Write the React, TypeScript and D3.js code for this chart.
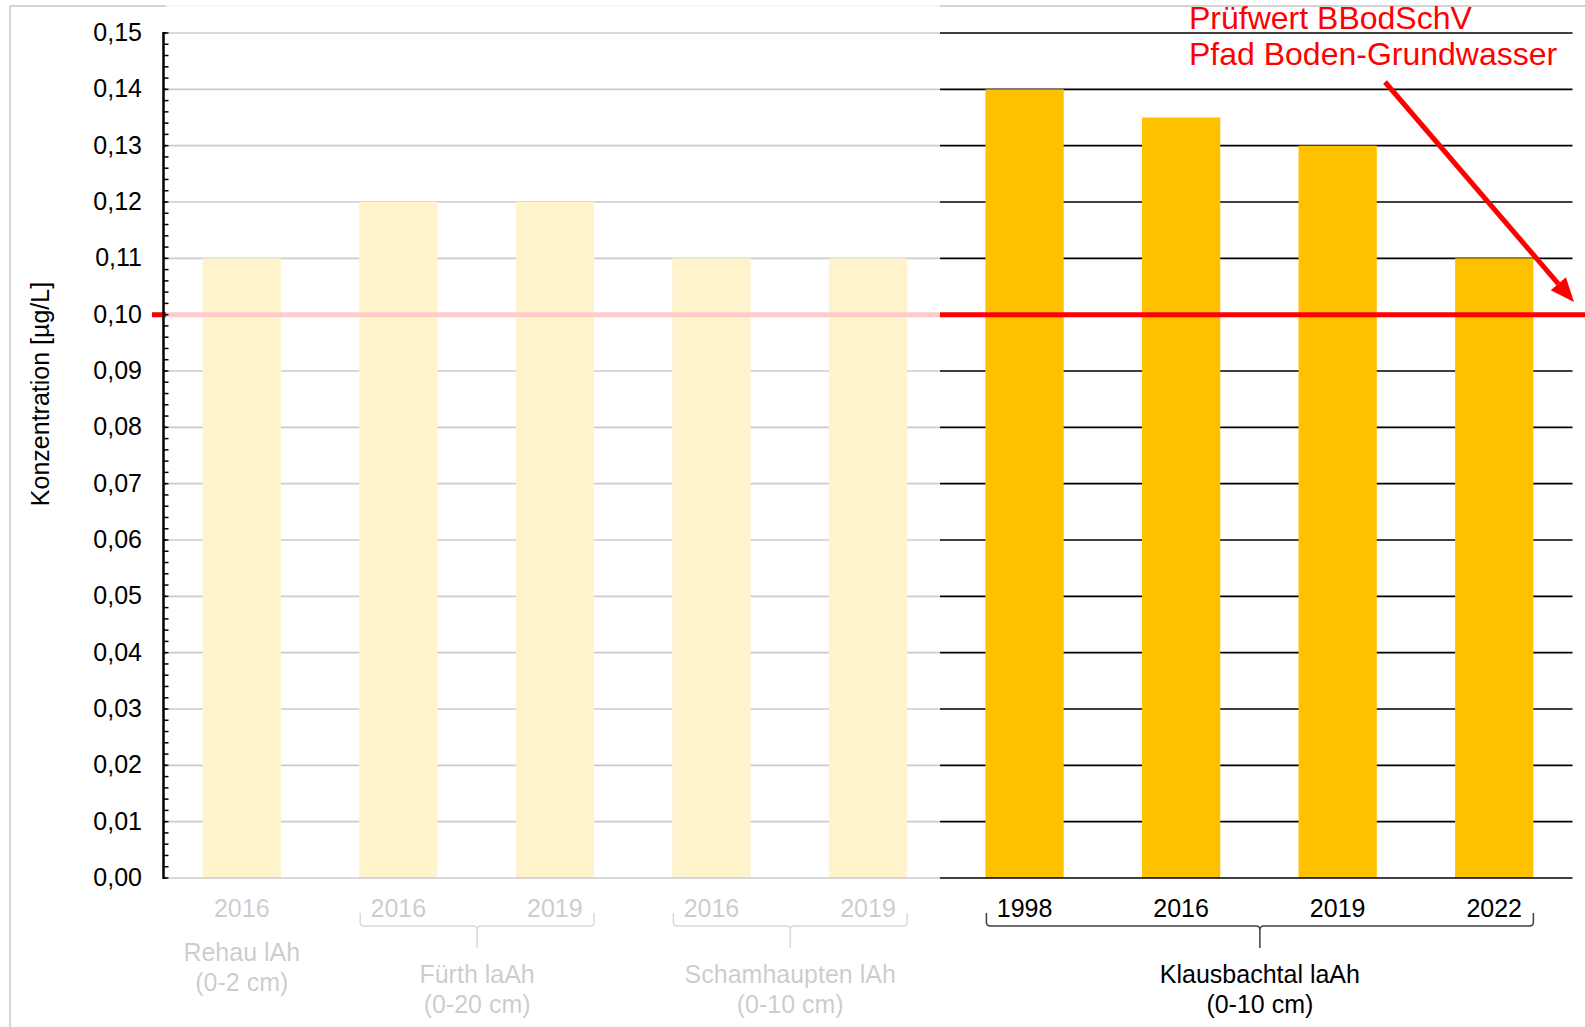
import React from "react";
import * as d3 from "d3";

const years = ["2016", "2016", "2019", "2016", "2019", "1998", "2016", "2019", "2022"];
const values = [0.11, 0.12, 0.12, 0.11, 0.11, 0.14, 0.135, 0.13, 0.11];
const groupNames = ["Rehau lAh", "Fürth laAh", "Schamhaupten lAh", "Klausbachtal laAh"];
const groupDepths = ["(0-2 cm)", "(0-20 cm)", "(0-10 cm)", "(0-10 cm)"];
const groupStart = [0, 1, 3, 5];
const groupEnd = [0, 2, 4, 8];
const yTicks = [0, 0.01, 0.02, 0.03, 0.04, 0.05, 0.06, 0.07, 0.08, 0.09, 0.1, 0.11, 0.12, 0.13, 0.14, 0.15];
const threshold = 0.1;
const annotation = ["Prüfwert BBodSchV", "Pfad Boden-Grundwasser"];
const yTitle = "Konzentration [µg/L]";

const W = 1585;
const H = 1027;
const FONT = "'Liberation Sans', Arial, sans-serif";

export default function App() {
  const idx = years.map((_, i) => i);
  const x = d3.scaleBand<number>().domain(idx).range([163.5, 1572.5]).paddingInner(0.5).paddingOuter(0.25);
  const y = d3.scaleLinear().domain([0, 0.15]).range([878, 33]);
  const bw = x.bandwidth();
  const minor = d3.range(0, 76).map((k) => k * 0.002);
  const fmt = (v: number) => d3.format(".2f")(v).replace(".", ",");

  const yT = 913, yH = 926, yB = 948, r = 4;
  const bracket = (xl: number, xr: number) => {
    const xc = (xl + xr) / 2;
    return `M${xl},${yT} L${xl},${yH - r} Q${xl},${yH} ${xl + r},${yH} L${xc - r},${yH} Q${xc},${yH} ${xc},${yH + r} L${xc},${yB} M${xc},${yH + r} Q${xc},${yH} ${xc + r},${yH} L${xr - r},${yH} Q${xr},${yH} ${xr},${yH - r} L${xr},${yT}`;
  };

  const ax0 = 1385, ay0 = 82, ax1 = 1574, ay1 = 302;
  const ang = Math.atan2(ay1 - ay0, ax1 - ax0);
  const hl = 24, hw = 10;
  const bx = ax1 - hl * Math.cos(ang), by = ay1 - hl * Math.sin(ang);
  const head = `M${ax1},${ay1} L${bx + hw * Math.sin(ang)},${by - hw * Math.cos(ang)} L${bx - hw * Math.sin(ang)},${by + hw * Math.cos(ang)} Z`;

  return (
    <svg width={W} height={H} style={{ position: "absolute", left: 0, top: 0, display: "block", background: "#fff" }} fontFamily={FONT}>
      {/* chart border */}
      <line x1={10} x2={W} y1={6} y2={6} stroke="#d4d4d4" strokeWidth={2} />
      <line x1={10} x2={10} y1={6} y2={H} stroke="#d4d4d4" strokeWidth={2} />

      {/* gridlines */}
      {yTicks.filter((t) => t > 0).map((t) => (
        <line key={"g" + t} x1={163.5} x2={1572.5} y1={y(t)} y2={y(t)} stroke="#000" strokeWidth={1.6} />
      ))}

      {/* bars */}
      {values.map((v, i) => (
        <rect key={"b" + i} x={x(i)} y={y(v)} width={bw} height={y(0) - y(v)} fill="#FFC000" />
      ))}

      {/* x axis line */}
      <line x1={163.5} x2={1572.5} y1={y(0)} y2={y(0)} stroke="#000" strokeWidth={1.6} />

      {/* threshold line */}
      <line x1={152} x2={W} y1={y(threshold)} y2={y(threshold)} stroke="#FF0000" strokeWidth={5} />

      {/* year labels */}
      {years.map((yr, i) => (
        <text key={"y" + i} x={(x(i) as number) + bw / 2} y={917} textAnchor="middle" fontSize={25} fill="#000">
          {yr}
        </text>
      ))}

      {/* brackets and group labels */}
      {groupNames.map((g, k) => {
        const s = groupStart[k], e = groupEnd[k];
        const xl = (x(s) as number) + 1;
        const xr = (x(e) as number) + bw;
        const xc = s === e ? (x(s) as number) + bw / 2 : (xl + xr) / 2;
        const b1 = s === e ? 961 : 983;
        return (
          <g key={"grp" + k}>
            {s !== e && <path d={bracket(xl, xr)} fill="none" stroke="#404040" strokeWidth={1.5} />}
            <text x={xc} y={b1} textAnchor="middle" fontSize={25} fill="#000">{g}</text>
            <text x={xc} y={b1 + 30} textAnchor="middle" fontSize={25} fill="#000">{groupDepths[k]}</text>
          </g>
        );
      })}

      {/* fading overlay */}
      <rect x={166} y={0} width={940 - 166} height={H} fill="#fff" opacity={0.8} />

      {/* y axis */}
      <line x1={163.5} x2={163.5} y1={y(0.15) - 1} y2={y(0) + 1} stroke="#000" strokeWidth={2.5} />
      {minor.map((t, i) => (
        <line key={"m" + i} x1={163.5} x2={168.5} y1={y(t)} y2={y(t)} stroke="#000" strokeWidth={1.5} />
      ))}
      {yTicks.map((t) => (
        <text key={"t" + t} x={142} y={y(t) + 8} textAnchor="end" fontSize={25} fill="#000">
          {fmt(t)}
        </text>
      ))}
      <text transform={`translate(49,394) rotate(-90)`} textAnchor="middle" fontSize={25} fill="#000">
        {yTitle}
      </text>

      {/* annotation */}
      <text x={1189} y={29} fontSize={32} fill="#FF0000">{annotation[0]}</text>
      <text x={1189} y={65} fontSize={32} fill="#FF0000">{annotation[1]}</text>
      <line x1={ax0} y1={ay0} x2={bx} y2={by} stroke="#FF0000" strokeWidth={5} />
      <path d={head} fill="#FF0000" />
    </svg>
  );
}
